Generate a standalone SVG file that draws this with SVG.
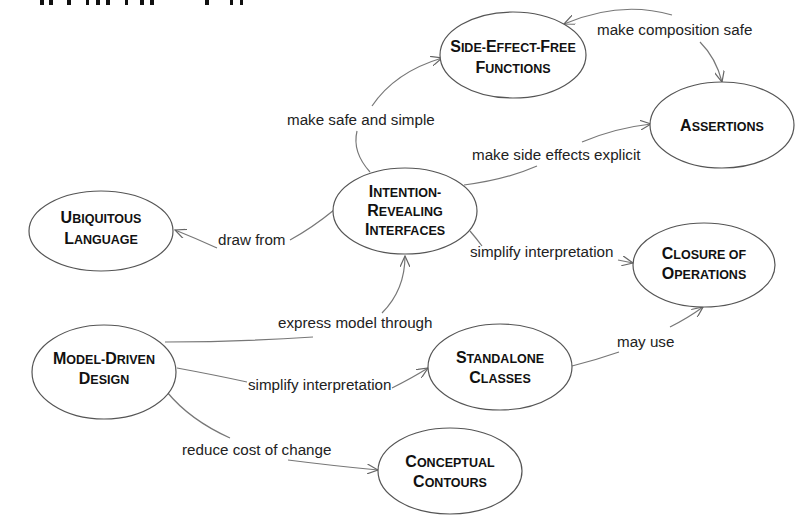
<svg xmlns="http://www.w3.org/2000/svg" width="802" height="524" viewBox="0 0 802 524">
<style>
.node ellipse{fill:#fff;stroke:#555;stroke-width:1.2}
.nt{font-family:"Liberation Sans",Arial,sans-serif;font-weight:bold;text-anchor:middle;fill:#111}
.c{font-size:16px}
.s{font-size:12.5px}
.lbl{font-family:"Liberation Sans",Arial,sans-serif;font-size:15.2px;fill:#222}
.edge path{fill:none;stroke:#777;stroke-width:1.2}
</style>
<defs>
<marker id="arr" viewBox="0 0 12 10" refX="11" refY="5" markerWidth="12" markerHeight="10" orient="auto" markerUnits="userSpaceOnUse">
<path d="M0,0 L11,5 L0,10" fill="none" stroke="#666" stroke-width="1.2"/>
</marker>
</defs>
<rect width="802" height="524" fill="#fff"/>
<g id="cropped-fragments" fill="#111">
<rect x="40" y="0" width="4" height="5"/><rect x="49" y="0" width="4" height="5"/>
<rect x="67" y="0" width="4" height="5"/><rect x="86" y="0" width="3" height="5"/>
<rect x="96" y="0" width="4" height="5"/><rect x="106" y="0" width="4" height="5"/>
<rect x="125" y="0" width="3" height="5"/><rect x="140" y="0" width="4" height="5"/>
<rect x="150" y="0" width="4" height="5"/><rect x="205" y="0" width="4" height="5"/>
<rect x="230" y="0" width="3" height="5"/><rect x="240" y="0" width="3" height="5"/>
</g>
<g id="connectors" class="edge">
<path d="M370,172 Q352,152 357,131"/>
<path d="M372,106 Q395,72 442,58" marker-end="url(#arr)"/>
<path d="M672,15 Q620,0 564,24" marker-end="url(#arr)"/>
<path d="M700,42 Q716,58 722,82" marker-end="url(#arr)"/>
<path d="M464,185 Q505,180 537,166"/>
<path d="M582,142 Q615,128 651,124" marker-end="url(#arr)"/>
<path d="M334,210 Q312,228 290,240"/>
<path d="M217,248 Q195,238 175,230" marker-end="url(#arr)"/>
<path d="M470,231 Q476,238 482,246"/>
<path d="M618,260 L633,263" marker-end="url(#arr)"/>
<path d="M165,342 Q240,342 313,337"/>
<path d="M382,313 Q405,290 405,256" marker-end="url(#arr)"/>
<path d="M177,368 Q215,375 247,382"/>
<path d="M392,388 Q412,378 428,368" marker-end="url(#arr)"/>
<path d="M572,366 Q596,360 619,352"/>
<path d="M670,327 Q688,318 703,307" marker-end="url(#arr)"/>
<path d="M167,392 Q190,420 230,438"/>
<path d="M288,460 Q335,466 378,470" marker-end="url(#arr)"/>
</g>
<g id="labels">
<text class="lbl" x="597" y="35">make composition safe</text>
<text class="lbl" x="287" y="125">make safe and simple</text>
<text class="lbl" x="472" y="160">make side effects explicit</text>
<text class="lbl" x="218" y="245">draw from</text>
<text class="lbl" x="470" y="257">simplify interpretation</text>
<text class="lbl" x="278" y="328">express model through</text>
<text class="lbl" x="248" y="390">simplify interpretation</text>
<text class="lbl" x="617" y="347">may use</text>
<text class="lbl" x="182" y="455">reduce cost of change</text>
</g>
<g id="side-effect-free-functions" class="node">
<ellipse cx="513" cy="55" rx="73" ry="43"/>
<text class="nt" x="513" y="52"><tspan class="c">S</tspan><tspan class="s">IDE-</tspan><tspan class="c">E</tspan><tspan class="s">FFECT-</tspan><tspan class="c">F</tspan><tspan class="s">REE</tspan></text>
<text class="nt" x="513" y="73"><tspan class="c">F</tspan><tspan class="s">UNCTIONS</tspan></text>
</g>
<g id="assertions" class="node">
<ellipse cx="722" cy="125" rx="72" ry="43"/>
<text class="nt" x="722" y="131"><tspan class="c">A</tspan><tspan class="s">SSERTIONS</tspan></text>
</g>
<g id="intention-revealing-interfaces" class="node">
<ellipse cx="405" cy="211" rx="72" ry="43"/>
<text class="nt" x="405" y="197"><tspan class="c">I</tspan><tspan class="s">NTENTION-</tspan></text>
<text class="nt" x="405" y="216"><tspan class="c">R</tspan><tspan class="s">EVEALING</tspan></text>
<text class="nt" x="405" y="235"><tspan class="c">I</tspan><tspan class="s">NTERFACES</tspan></text>
</g>
<g id="ubiquitous-language" class="node">
<ellipse cx="101" cy="231" rx="72" ry="40"/>
<text class="nt" x="101" y="223"><tspan class="c">U</tspan><tspan class="s">BIQUITOUS</tspan></text>
<text class="nt" x="101" y="244"><tspan class="c">L</tspan><tspan class="s">ANGUAGE</tspan></text>
</g>
<g id="closure-of-operations" class="node">
<ellipse cx="704" cy="265" rx="71" ry="42"/>
<text class="nt" x="704" y="259"><tspan class="c">C</tspan><tspan class="s">LOSURE OF</tspan></text>
<text class="nt" x="704" y="279"><tspan class="c">O</tspan><tspan class="s">PERATIONS</tspan></text>
</g>
<g id="model-driven-design" class="node">
<ellipse cx="104" cy="372" rx="72" ry="47"/>
<text class="nt" x="104" y="364"><tspan class="c">M</tspan><tspan class="s">ODEL-</tspan><tspan class="c">D</tspan><tspan class="s">RIVEN</tspan></text>
<text class="nt" x="104" y="384"><tspan class="c">D</tspan><tspan class="s">ESIGN</tspan></text>
</g>
<g id="standalone-classes" class="node">
<ellipse cx="500" cy="367" rx="72" ry="43"/>
<text class="nt" x="500" y="363"><tspan class="c">S</tspan><tspan class="s">TANDALONE</tspan></text>
<text class="nt" x="500" y="383"><tspan class="c">C</tspan><tspan class="s">LASSES</tspan></text>
</g>
<g id="conceptual-contours" class="node">
<ellipse cx="450" cy="471" rx="72" ry="43"/>
<text class="nt" x="450" y="467"><tspan class="c">C</tspan><tspan class="s">ONCEPTUAL</tspan></text>
<text class="nt" x="450" y="487"><tspan class="c">C</tspan><tspan class="s">ONTOURS</tspan></text>
</g>
</svg>
